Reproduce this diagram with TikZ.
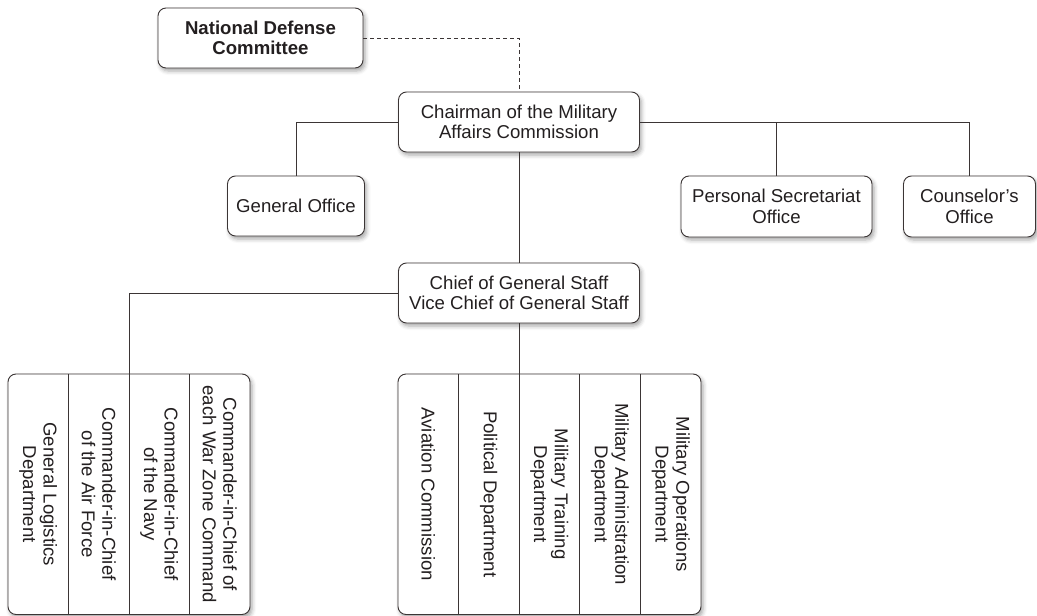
\documentclass[tikz,border=0pt]{standalone}
\usepackage{fontspec}
\setmainfont{Liberation Sans}
\usetikzlibrary{shadows.blur,calc}
\definecolor{linecol}{HTML}{3B3535}
\definecolor{txtcol}{HTML}{231F20}
\begin{document}
\begin{tikzpicture}[x=1pt,y=-1pt,
  every node/.style={text=txtcol, font=\fontsize{18.6}{20.6}\selectfont, inner sep=0pt},
  orgbox/.style={draw=linecol, line width=0.9pt, fill=white, rounded corners=8pt, align=center,
    blur shadow={shadow xshift=2pt, shadow yshift=-3pt, shadow blur radius=4pt, shadow opacity=35}},
  grpbox/.style={orgbox},
  coltext/.style={rotate=-90, align=center},
  conn/.style={draw=linecol, line width=0.9pt},
  dashconn/.style={conn, dash pattern=on 4pt off 3pt}
]
\useasboundingbox (0,0) rectangle (1037,616);

% boxes
\node[orgbox, minimum width=205pt, minimum height=60pt, font=\fontsize{18.6}{20.6}\selectfont\bfseries] (ndc) at (260.5,38) {National Defense\\Committee};
\node[orgbox, minimum width=241pt, minimum height=60pt] (chair) at (519,122) {Chairman of the Military\\Affairs Commission};
\node[orgbox, minimum width=137pt, minimum height=60pt] (gen) at (296,206) {General Office};
\node[orgbox, minimum width=191pt, minimum height=61pt] (pers) at (776.5,206.5) {Personal Secretariat\\Office};
\node[orgbox, minimum width=132pt, minimum height=61pt] (coun) at (969.5,206.5) {Counselor’s\\Office};
\node[orgbox, minimum width=241pt, minimum height=60pt] (chief) at (519,293) {Chief of General Staff\\Vice Chief of General Staff};

% groups
\node[grpbox, minimum width=242pt, minimum height=240.5pt] (lgrp) at (129,494.25) {};
\node[grpbox, minimum width=303pt, minimum height=240.5pt] (rgrp) at (549.5,494.25) {};

% dividers
\foreach \x [count=\i] in {68.5,129,189.5} {
  \coordinate (ld\i t) at (\x,374); \coordinate (ld\i b) at (\x,614.5);
  \draw[conn] (ld\i t) -- (ld\i b);
}
\foreach \x [count=\i] in {458.5,519,579.5,640.5} {
  \coordinate (rd\i t) at (\x,374); \coordinate (rd\i b) at (\x,614.5);
  \draw[conn] (rd\i t) -- (rd\i b);
}

% column texts
\node[coltext] (l1) at (38.25,494.25) {General Logistics\\Department};
\node[coltext] (l2) at (98.75,494.25) {Commander-in-Chief\\of the Air Force};
\node[coltext] (l3) at (159.25,494.25) {Commander-in-Chief\\of the Navy};
\node[coltext] (l4) at (219.75,494.25) {Commander-in-Chief of\\each War Zone Command};

\node[coltext] (r1) at (428.3,494.25) {Aviation Commission};
\node[coltext] (r2) at (488.8,494.25) {Political Department};
\node[coltext] (r3) at (549.3,494.25) {Military Training\\Department};
\node[coltext] (r4) at (610.0,494.25) {Military Administration\\Department};
\node[coltext] (r5) at (670.8,494.25) {Military Operations\\Department};

% connectors
\coordinate (dashcorner) at (519,38);
\draw[dashconn] (ndc.east) -- (dashcorner) -- (chair.north);
\draw[conn] (chair.west) -| (gen.north);
\draw[conn] (chair.east) -| (pers.north);
\draw[conn] (chair.east) -| (coun.north);
\draw[conn] (chair.south) -- (chief.north);
\draw[conn] (chief.west) -| (ld2t);
\draw[conn] (chief.south) -- (rd2t);
\end{tikzpicture}
\end{document}
